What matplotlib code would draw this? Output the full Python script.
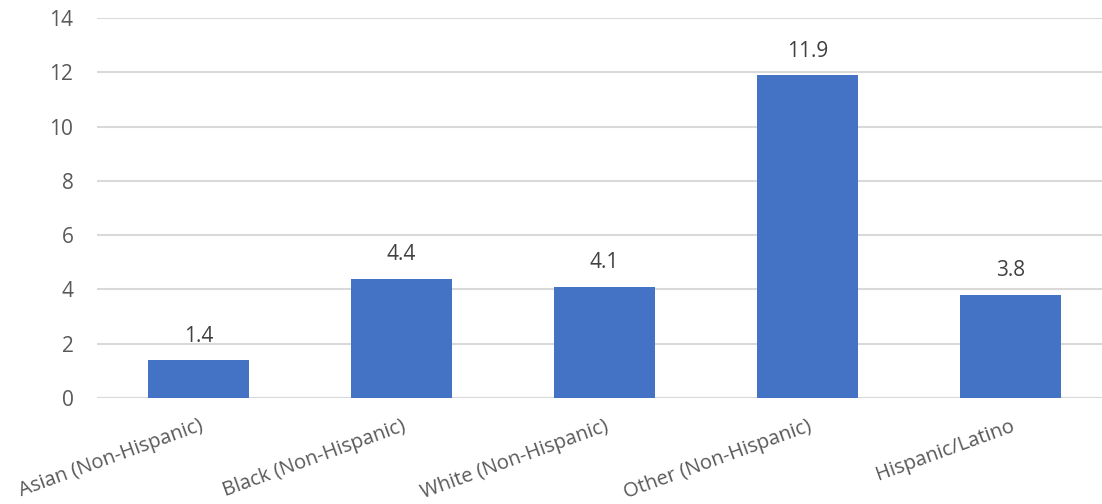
import matplotlib
matplotlib.use("Agg")
import matplotlib.pyplot as plt

categories = ["Asian (Non-Hispanic)", "Black (Non-Hispanic)", "White (Non-Hispanic)",
              "Other (Non-Hispanic)", "Hispanic/Latino"]
values = [1.4, 4.4, 4.1, 11.9, 3.8]
yticks = [0, 2, 4, 6, 8, 10, 12, 14]

plt.rcParams['font.family'] = ['Open Sans', 'DejaVu Sans']

W, H = 1102, 504
fig = plt.figure(figsize=(W / 100, H / 100), dpi=100)
left, right_px, top, bottom = 97, 97 + 5 * 203, 18, 398
ax = fig.add_axes([left / W, (H - bottom) / H, (right_px - left) / W, (bottom - top) / H])

x = list(range(len(categories)))
bars = ax.bar(x, values, width=0.5, color="#4472C4", zorder=3)
for xi, v in zip(x, values):
    ax.text(xi, v + 0.68, f"{v:.1f}", ha="center", va="baseline", fontsize=15, color="#404040")

ax.set_xlim(-0.5, len(categories) - 0.5)
ax.set_ylim(0, 14)
ax.set_yticks(yticks)
ax.set_yticklabels([str(t) for t in yticks], fontsize=15, color="#595959")
ax.yaxis.grid(True, color="#D9D9D9", linewidth=1.5, zorder=0)
ax.tick_params(axis="y", length=0, pad=17)
ax.tick_params(axis="x", length=0, pad=13)
ax.set_xticks(x)
ax.set_xticklabels(categories, rotation=20, ha="right", rotation_mode="anchor",
                   fontsize=14.5, color="#595959")
for s in ax.spines.values():
    s.set_visible(False)
ax.axhline(0, color="#D9D9D9", linewidth=1.5, zorder=2)

fig.savefig("out.png", dpi=100)
